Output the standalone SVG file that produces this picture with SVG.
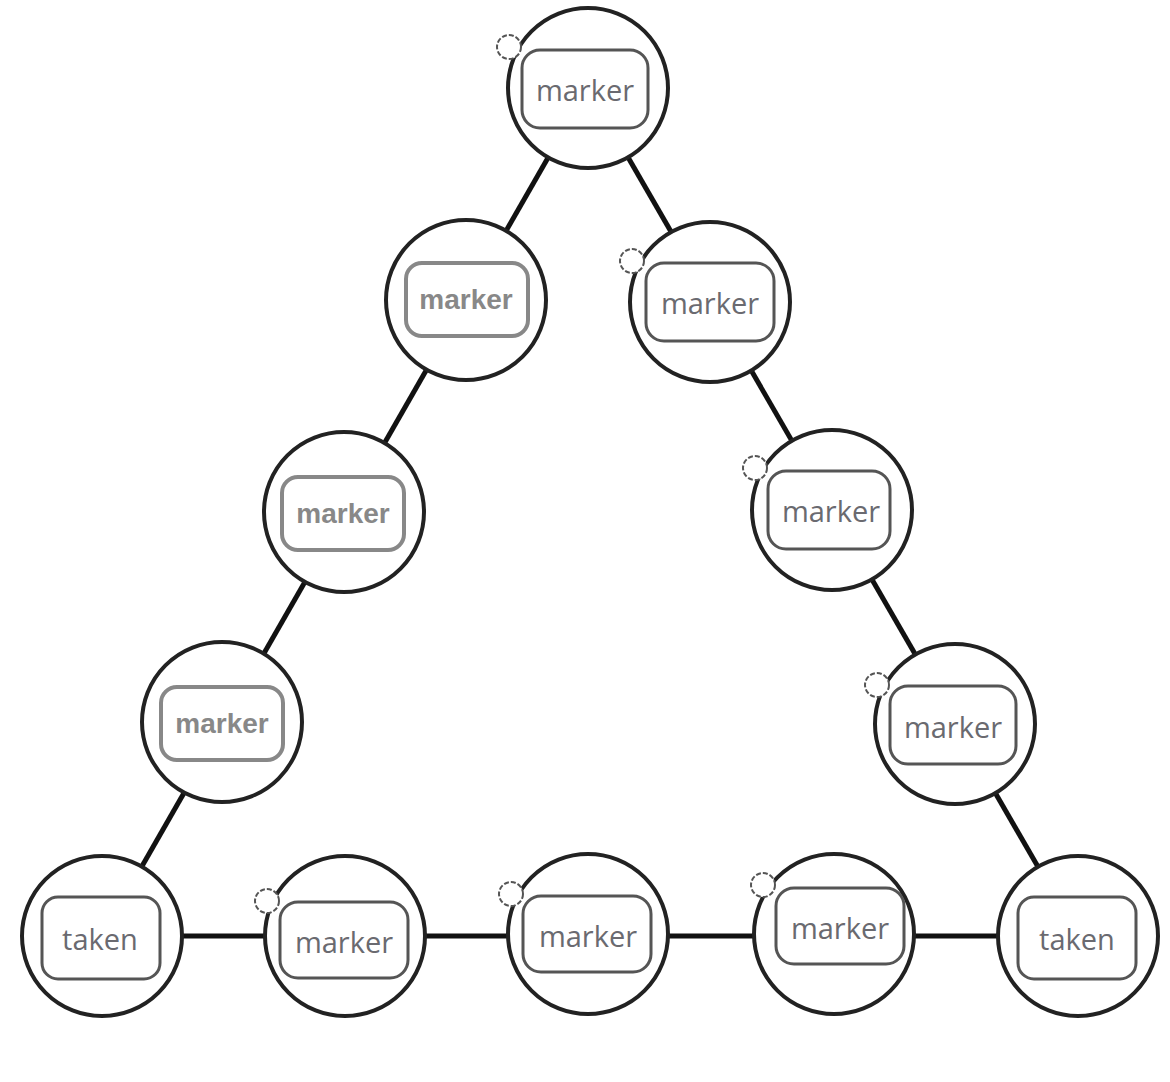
<svg xmlns="http://www.w3.org/2000/svg" width="1170" height="1082" viewBox="0 0 1170 1082">
<style>
.c{fill:#fff;stroke:#222;stroke-width:4}
.r{fill:#fff;stroke:#555;stroke-width:3}
.rb{fill:#fff;stroke:#888;stroke-width:4}
.t{font-family:"Open Sans",sans-serif;font-size:29px;fill:#6a6a70;text-anchor:middle}
.tb{font-family:"Liberation Sans",sans-serif;font-size:28px;font-weight:bold;fill:#888;text-anchor:middle}
.s{fill:#fff;stroke:#555;stroke-width:2;stroke-dasharray:5 2}
.e{stroke:#111;stroke-width:5;fill:none}
</style>
<rect width="1170" height="1082" fill="#fff"/>
<g id="edges">
<line class="e" x1="588" y1="88" x2="102" y2="936"/>
<line class="e" x1="588" y1="88" x2="1078" y2="936"/>
<line class="e" x1="102" y1="936" x2="1078" y2="936"/>
</g>
<g id="n1"><circle class="c" cx="588" cy="88" r="80"/><rect class="r" x="522" y="50" width="126" height="78" rx="18"/><text class="t" x="585" y="101">marker</text><circle class="s" cx="509" cy="47" r="12"/></g>
<g id="n2"><circle class="c" cx="466" cy="300" r="80"/><rect class="rb" x="406" y="263" width="122" height="73" rx="16"/><text class="tb" x="466" y="309">marker</text></g>
<g id="n3"><circle class="c" cx="344" cy="512" r="80"/><rect class="rb" x="282" y="477" width="122" height="73" rx="16"/><text class="tb" x="343" y="523">marker</text></g>
<g id="n4"><circle class="c" cx="222" cy="722" r="80"/><rect class="rb" x="161" y="687" width="122" height="73" rx="16"/><text class="tb" x="222" y="733">marker</text></g>
<g id="n5"><circle class="c" cx="102" cy="936" r="80"/><rect class="r" x="42" y="897" width="118" height="82" rx="16"/><text class="t" x="100" y="950">taken</text></g>
<g id="n6"><circle class="c" cx="710" cy="302" r="80"/><rect class="r" x="646" y="263" width="128" height="78" rx="18"/><text class="t" x="710" y="314">marker</text><circle class="s" cx="632" cy="261" r="12"/></g>
<g id="n7"><circle class="c" cx="832" cy="510" r="80"/><rect class="r" x="768" y="471" width="122" height="78" rx="18"/><text class="t" x="831" y="522">marker</text><circle class="s" cx="755" cy="468" r="12"/></g>
<g id="n8"><circle class="c" cx="955" cy="724" r="80"/><rect class="r" x="890" y="686" width="126" height="78" rx="18"/><text class="t" x="953" y="738">marker</text><circle class="s" cx="877" cy="685" r="12"/></g>
<g id="n9"><circle class="c" cx="1078" cy="936" r="80"/><rect class="r" x="1018" y="897" width="118" height="82" rx="16"/><text class="t" x="1077" y="950">taken</text></g>
<g id="n10"><circle class="c" cx="345" cy="936" r="80"/><rect class="r" x="280" y="902" width="128" height="76" rx="18"/><text class="t" x="344" y="953">marker</text><circle class="s" cx="267" cy="901" r="12"/></g>
<g id="n11"><circle class="c" cx="588" cy="934" r="80"/><rect class="r" x="523" y="896" width="128" height="76" rx="18"/><text class="t" x="588" y="947">marker</text><circle class="s" cx="511" cy="894" r="12"/></g>
<g id="n12"><circle class="c" cx="834" cy="934" r="80"/><rect class="r" x="776" y="888" width="128" height="76" rx="18"/><text class="t" x="840" y="939">marker</text><circle class="s" cx="763" cy="885" r="12"/></g>
</svg>
